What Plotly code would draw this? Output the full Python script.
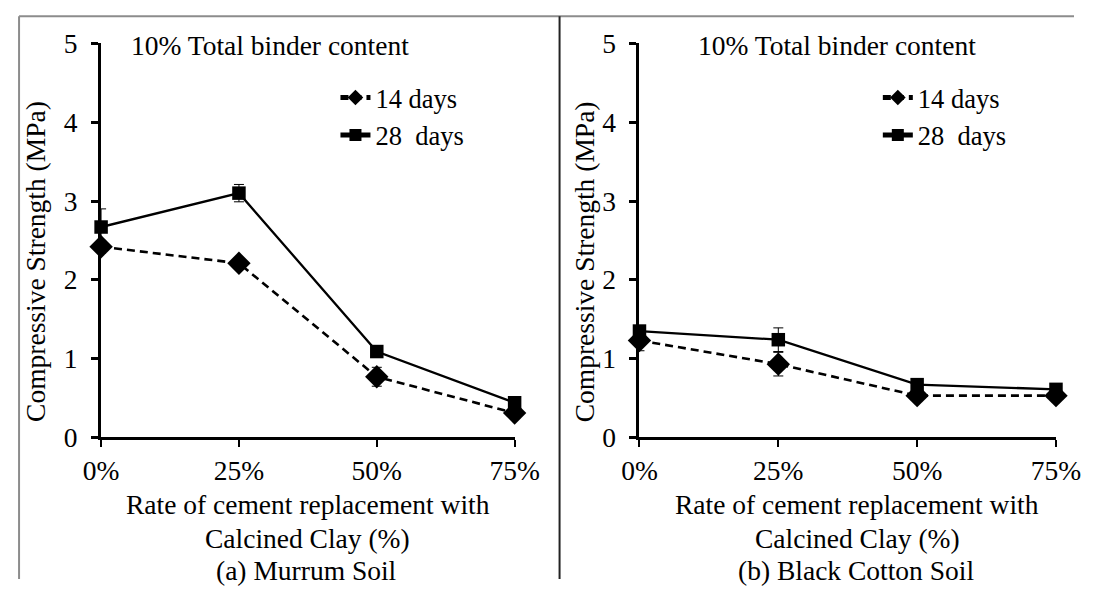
import plotly.graph_objects as go

categories = ["0%", "25%", "50%", "75%"]
murrum_14 = [2.42, 2.21, 0.77, 0.31]
murrum_28 = [2.67, 3.10, 1.09, 0.44]
murrum_14_err = [0.08, 0.06, 0.12, 0.05]
murrum_28_err = [0.23, 0.11, 0.04, 0.04]
bc_14 = [1.23, 0.93, 0.53, 0.53]
bc_28 = [1.35, 1.24, 0.67, 0.61]
bc_14_err = [0.13, 0.15, 0.05, 0.04]
bc_28_err = [0.05, 0.15, 0.04, 0.03]
y_ticks = [0, 1, 2, 3, 4, 5]
series_names = ["14 days", "28\u00a0 days"]
panel_titles = ["(a) Murrum Soil", "(b) Black Cotton Soil"]

W, H = 1099, 595
FONT = "Liberation Serif, Times New Roman, Tinos, DejaVu Serif, serif"
FS = 27.5
LFS = 26.5

# the captured picture is a slightly reduced copy of the page; positions are
# given in picture pixels and converted back to figure pixels here
OX, OY, SX, SY = 15.8, 13.4, 0.962, 0.955

def fx(X):
    return (X - OX) / SX

def fy(Y):
    return (Y - OY) / SY

def px(X):
    return min(max(fx(X) / W, 0), 1)

def py(Y):
    return min(max(1 - fy(Y) / H, 0), 1)

fig = go.Figure()

panels = [
    (murrum_14, murrum_14_err, murrum_28, murrum_28_err, "x", "y", "legend"),
    (bc_14, bc_14_err, bc_28, bc_28_err, "x2", "y2", "legend2"),
]
for v14, e14, v28, e28, xa, ya, lg in panels:
    fig.add_trace(go.Scatter(
        x=categories, y=v14, name=series_names[0], xaxis=xa, yaxis=ya, legend=lg,
        mode="lines+markers",
        line=dict(color="black", width=2.6, dash="8px,5px"),
        marker=dict(symbol="diamond", size=18, color="black"),
        error_y=dict(type="data", array=e14, color="black", thickness=1, width=5),
        cliponaxis=False,
    ))
    fig.add_trace(go.Scatter(
        x=categories, y=v28, name=series_names[1], xaxis=xa, yaxis=ya, legend=lg,
        mode="lines+markers",
        line=dict(color="black", width=2.3),
        marker=dict(symbol="square", size=13.5, color="black"),
        error_y=dict(type="data", array=e28, color="black", thickness=1, width=5),
        cliponaxis=False,
    ))

xcommon = dict(type="category", range=[0, 3], showline=True, linecolor="black", linewidth=3,
               ticks="outside", ticklen=7, tickwidth=2, tickcolor="black",
               tickfont=dict(family=FONT, size=FS, color="black"),
               showgrid=False, zeroline=False, ticklabelstandoff=0)
ycommon = dict(range=[0, 5], tickvals=y_ticks, showline=True, linecolor="black", linewidth=3,
               ticks="outside", ticklen=7, tickwidth=3, tickcolor="black",
               tickfont=dict(family=FONT, size=FS, color="black"),
               showgrid=False, zeroline=False, ticklabelstandoff=8)

y_dom = [py(439), py(42)]
fig.update_layout(
    width=W, height=H, margin=dict(l=0, r=0, t=0, b=0),
    paper_bgcolor="white", plot_bgcolor="white",
    font=dict(family=FONT, size=FS, color="black"),
    xaxis=dict(domain=[px(99), px(513)], anchor="y", **xcommon),
    yaxis=dict(domain=y_dom, anchor="x", **ycommon),
    xaxis2=dict(domain=[px(638), px(1055)], anchor="y2", **xcommon),
    yaxis2=dict(domain=y_dom, anchor="x2", **ycommon),
    legend=dict(x=(fx(375) - 43) / W, y=1 - 62 / H, xanchor="left", yanchor="top",
                bgcolor="rgba(0,0,0,0)", itemsizing="constant",
                font=dict(family=FONT, size=LFS, color="black"), tracegroupgap=0),
    legend2=dict(x=(fx(918) - 43) / W, y=1 - 62 / H, xanchor="left", yanchor="top",
                 bgcolor="rgba(0,0,0,0)", itemsizing="constant",
                 font=dict(family=FONT, size=LFS, color="black"), tracegroupgap=0),
    showlegend=True,
)

texts = [
    ("10% Total binder content", 268, 44, 0),
    ("10% Total binder content", 836, 44, 0),
    ("Compressive Strength (MPa)", 34, 262, -90),
    ("Compressive Strength (MPa)", 583, 262, -90),
    ("Rate of cement replacement with", 306, 507, 0),
    ("Rate of cement replacement with", 856, 507, 0),
    ("Calcined Clay (%)", 306, 541, 0),
    ("Calcined Clay (%)", 856, 541, 0),
    (panel_titles[0], 305, 573, 0),
    (panel_titles[1], 855, 573, 0),
]
ann = []
for t, x, y, ang in texts:
    ann.append(dict(text=t, x=px(x), y=py(y), xref="paper", yref="paper",
                    xanchor="center", yanchor="middle", showarrow=False, textangle=ang,
                    font=dict(family=FONT, size=FS, color="black")))
fig.update_layout(annotations=ann)

shapes = [
    dict(type="line", xref="paper", yref="paper", x0=0.001, x1=1, y0=0.998, y1=0.998,
         line=dict(color="#8c8c8c", width=2)),
    dict(type="line", xref="paper", yref="paper", x0=0.001, x1=0.001, y0=0.998, y1=0,
         line=dict(color="#8c8c8c", width=2)),
    dict(type="line", xref="paper", yref="paper", x0=px(558), x1=px(558), y0=0.998, y1=0,
         line=dict(color="#222222", width=2)),
]
fig.update_layout(shapes=shapes)

fig.write_html("out.html")
